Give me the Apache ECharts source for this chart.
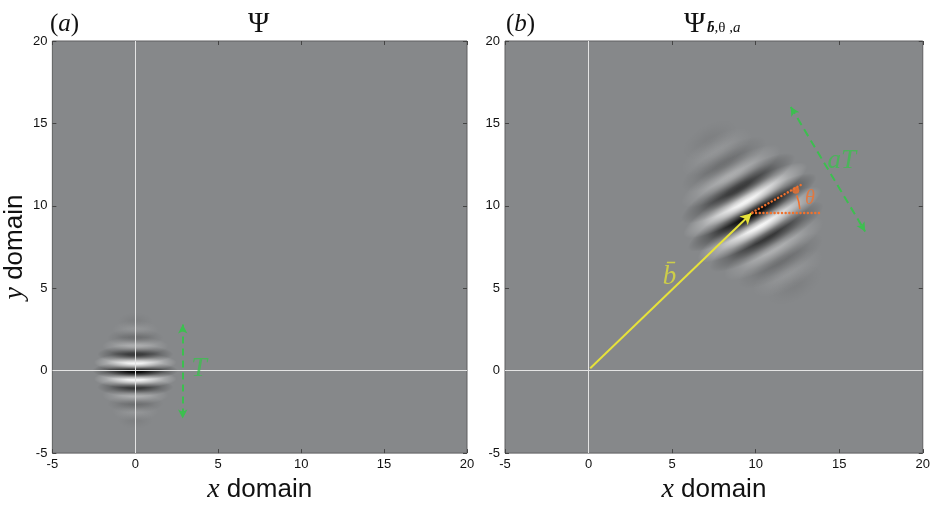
<!DOCTYPE html>
<html>
<head>
<meta charset="utf-8">
<script src="https://cdn.jsdelivr.net/npm/echarts@6/dist/echarts.min.js"></script>
<style>
  html, body { margin: 0; padding: 0; background: #ffffff; }
  #chart { width: 933px; height: 509px; }
</style>
</head>
<body>
<div id="chart"></div>
<script>
// Axis ticks shared by both panels
const tickValues = [-5, 0, 5, 10, 15, 20];

// Wavelet bands: offset across the bands (in periods), signed grey level
// (+ white, - black) and half length along the bands
const bandOffsets     = [-3, -2.5, -2, -1.5, -1, -0.5, 0, 0.5, 1, 1.5, 2, 2.5, 3];
const bandLevels      = [-0.06, 0.12, -0.2, 0.36, -0.64, 0.96, -1, 0.96, -0.64, 0.36, -0.2, 0.12, -0.06];
const bandHalfLengths = [1.1, 1.4, 1.7, 2.0, 2.3, 2.5, 2.6, 2.5, 2.3, 2.0, 1.7, 1.4, 1.1];
const bandHalfWidth   = 0.55;

// Mother wavelet (a) and shifted / rotated / dilated wavelet (b)
const waveletCentres = [[0, 0], [9.8, 9.6]];
const waveletAngles  = [0, 30];
const waveletScales  = [1, 1.7];

// Annotations
const periodArrowA       = [[2.86, 2.8], [2.86, -2.9]];
const shiftArrowB        = [[0.1, 0.15], [9.75, 9.55]];
const scaledPeriodArrowB = [[12.1, 16.0], [16.55, 8.45]];
const angleRefLineB      = [[9.8, 9.6], [14.0, 9.6]];
const angleDirLineB      = [[9.8, 9.6], [12.85, 11.35]];
const angleDotB          = [12.4, 10.95];
const angleArcB          = [9.8, 9.6, 2.85, 4, 21]; // centre x, centre y, radius, from deg, to deg
const labelsA = [{ text: 'T', pos: [3.85, 0.15], size: 28 }];
const labelsB = [
  { text: 'b\u0304', pos: [4.85, 5.7], color: '#dede3a', size: 27 },
  { text: '\u03b8', pos: [13.25, 10.45], color: '#f0722e', size: 20 },
  { text: 'aT', pos: [15.15, 12.75], color: '#3cbf4f', size: 27 }
];

const GREEN = '#3cbf4f';
const YELLOW = '#e6e23a';
const ORANGE = '#f0722e';
const BG = '#86888a';
const AXISLINE = '#e4e4e4';

function bandData(p) {
  return bandOffsets.map((o, k) => [
    waveletCentres[p][0], waveletCentres[p][1], o, bandLevels[k], bandHalfLengths[k],
    waveletAngles[p], waveletScales[p]
  ]);
}

function renderBand(params, api) {
  const cx = api.value(0), cy = api.value(1), off = api.value(2), lvl = api.value(3);
  const hl = api.value(4), ang = api.value(5), sc = api.value(6);
  const t = ang * Math.PI / 180;
  const p = api.coord([cx - Math.sin(t) * off * sc, cy + Math.cos(t) * off * sc]);
  const unit = api.size([1, 1]);
  const a = Math.abs(lvl);
  const rgb = lvl > 0 ? '255,255,255' : '0,0,0';
  const c = f => 'rgba(' + rgb + ',' + (a * f).toFixed(3) + ')';
  return {
    type: 'circle',
    shape: { cx: 0, cy: 0, r: 1 },
    x: p[0], y: p[1],
    scaleX: hl * sc * unit[0],
    scaleY: bandHalfWidth * sc * unit[1],
    rotation: t,
    style: {
      fill: {
        type: 'radial', x: 0.5, y: 0.5, r: 0.5,
        colorStops: [
          { offset: 0, color: c(1) },
          { offset: 0.2, color: c(0.92) },
          { offset: 0.45, color: c(0.62) },
          { offset: 0.7, color: c(0.28) },
          { offset: 1, color: c(0) }
        ]
      }
    }
  };
}

function renderArc(params, api) {
  const ctr = api.coord([api.value(0), api.value(1)]);
  const r = api.size([api.value(2), 0])[0];
  return {
    type: 'arc',
    shape: {
      cx: ctr[0], cy: ctr[1], r: r,
      startAngle: -api.value(4) * Math.PI / 180,
      endAngle: -api.value(3) * Math.PI / 180,
      clockwise: true
    },
    style: { stroke: ORANGE, lineWidth: 1.5, fill: null }
  };
}

function arrowLine(pts, color, type, width, startSym, endSym, size, cap) {
  return [
    { coord: pts[0], symbol: startSym, symbolSize: size,
      lineStyle: { color: color, type: type, width: width, cap: cap || 'butt' } },
    { coord: pts[1], symbol: endSym, symbolSize: size }
  ];
}

function zeroLines() {
  return [
    { xAxis: 0, symbol: 'none', lineStyle: { color: AXISLINE, width: 1, type: 'solid' } },
    { yAxis: 0, symbol: 'none', lineStyle: { color: AXISLINE, width: 1, type: 'solid' } }
  ];
}

const tickStyle = { show: true, inside: true, length: 4, lineStyle: { color: '#444', width: 1 } };
const hiddenLine = { show: false, onZero: false };
const labelStyle = { fontFamily: 'Liberation Sans', fontSize: 13, color: '#111', margin: 5 };
const nameRich = {
  i: { fontFamily: 'Liberation Serif', fontStyle: 'italic', fontSize: 28, color: '#111' },
  n: { fontFamily: 'Liberation Sans', fontSize: 26, color: '#111' }
};

function xAxes(g) {
  return [
    {
      gridIndex: g, type: 'value', min: -5, max: 20, interval: 5, position: 'bottom',
      axisLine: hiddenLine, axisTick: tickStyle, splitLine: { show: false },
      axisLabel: labelStyle,
      name: '{i|x} {n|domain}', nameLocation: 'middle', nameGap: 20,
      nameTextStyle: { fontSize: 26, fontFamily: 'Liberation Sans', color: '#111', rich: nameRich }
    },
    {
      gridIndex: g, type: 'value', min: -5, max: 20, interval: 5, position: 'top',
      axisLine: hiddenLine, axisTick: tickStyle, splitLine: { show: false },
      axisLabel: { show: false }
    }
  ];
}

function yAxes(g, withName) {
  const left = {
    gridIndex: g, type: 'value', min: -5, max: 20, interval: 5, position: 'left',
    axisLine: hiddenLine, axisTick: tickStyle, splitLine: { show: false },
    axisLabel: labelStyle
  };
  if (withName) {
    Object.assign(left, {
      name: '{i|y} {n|domain}', nameLocation: 'middle', nameGap: 20, nameRotate: 90,
      nameTextStyle: { fontSize: 26, fontFamily: 'Liberation Sans', color: '#111', rich: nameRich }
    });
  }
  return [left, {
    gridIndex: g, type: 'value', min: -5, max: 20, interval: 5, position: 'right',
    axisLine: hiddenLine, axisTick: tickStyle, splitLine: { show: false },
    axisLabel: { show: false }
  }];
}

function labelSeries(xi, yi, labels, markLines) {
  return {
    type: 'scatter', xAxisIndex: xi, yAxisIndex: yi, z: 6, silent: true,
    symbolSize: 0,
    data: labels.map(l => ({
      value: l.pos,
      label: {
        show: true, position: 'inside', formatter: l.text,
        fontFamily: 'Liberation Serif', fontStyle: 'italic',
        fontSize: l.size || 24, color: l.color || GREEN
      }
    })),
    markLine: { silent: true, symbol: 'none', label: { show: false }, animation: false, data: markLines }
  };
}

const option = {
  animation: false,
  backgroundColor: '#ffffff',
  title: [
    { left: 45, top: 7, text: '{p|(}{i|a}{p|)}',
      textStyle: { fontWeight: 'normal', rich: {
        p: { fontFamily: 'Liberation Serif', fontSize: 25, color: '#111' },
        i: { fontFamily: 'Liberation Serif', fontStyle: 'italic', fontSize: 25, color: '#111' } } } },
    { left: 243, top: 5, text: '\u03a8',
      textStyle: { fontWeight: 'normal', fontFamily: 'Liberation Serif', fontSize: 29, color: '#111' } },
    { left: 501, top: 7, text: '{p|(}{i|b}{p|)}',
      textStyle: { fontWeight: 'normal', rich: {
        p: { fontFamily: 'Liberation Serif', fontSize: 25, color: '#111' },
        i: { fontFamily: 'Liberation Serif', fontStyle: 'italic', fontSize: 25, color: '#111' } } } },
    { left: 679, top: 5, text: '\u03a8',
      textStyle: { fontWeight: 'normal', fontFamily: 'Liberation Serif', fontSize: 29, color: '#111' } },
    { left: 702, top: 16, text: '{b|b\u0304}{c|,\u03b8 ,}{a|a}',
      textStyle: { fontWeight: 'normal', rich: {
        b: { fontFamily: 'Liberation Serif', fontStyle: 'italic', fontWeight: 'bold', fontSize: 15, color: '#111' },
        c: { fontFamily: 'Liberation Serif', fontSize: 15, color: '#111' },
        a: { fontFamily: 'Liberation Serif', fontStyle: 'italic', fontSize: 15, color: '#111' } } } }
  ],
  grid: [
    { left: 50, top: 41, width: 417, height: 417, show: true, backgroundColor: BG,
      borderColor: '#5e5f60', borderWidth: 1 },
    { left: 505, top: 41, width: 418, height: 417, show: true, backgroundColor: BG,
      borderColor: '#5e5f60', borderWidth: 1 }
  ],
  xAxis: xAxes(0).concat(xAxes(1)),
  yAxis: yAxes(0, true).concat(yAxes(1, false)),
  series: [
    {
      type: 'custom', xAxisIndex: 0, yAxisIndex: 0, z: 2, silent: true,
      encode: { x: 0, y: 1 }, renderItem: renderBand, data: bandData(0)
    },
    {
      type: 'custom', xAxisIndex: 2, yAxisIndex: 2, z: 2, silent: true,
      encode: { x: 0, y: 1 }, renderItem: renderBand, data: bandData(1)
    },
    labelSeries(0, 0, labelsA, zeroLines().concat([
      arrowLine(periodArrowA, GREEN, [7, 5], 2, 'arrow', 'arrow', [7, 9])
    ])),
    labelSeries(2, 2, labelsB, zeroLines().concat([
      arrowLine(shiftArrowB, YELLOW, 'solid', 2, 'none', 'arrow', [9, 11]),
      arrowLine(scaledPeriodArrowB, GREEN, [8, 5], 2, 'arrow', 'arrow', [7, 9]),
      arrowLine(angleRefLineB, ORANGE, [0.1, 3.6], 2.4, 'none', 'none', 0, 'round'),
      arrowLine(angleDirLineB, ORANGE, [0.1, 3.6], 2.4, 'none', 'none', 0, 'round')
    ])),
    {
      type: 'scatter', xAxisIndex: 2, yAxisIndex: 2, z: 7, silent: true,
      symbolSize: 7, itemStyle: { color: ORANGE }, data: [angleDotB]
    },
    {
      type: 'custom', xAxisIndex: 2, yAxisIndex: 2, z: 7, silent: true,
      encode: { x: 0, y: 1 }, renderItem: renderArc, data: [angleArcB]
    }
  ]
};

const chart = echarts.init(document.getElementById('chart'), null, { renderer: 'canvas' });
chart.setOption(option);
</script>
</body>
</html>
